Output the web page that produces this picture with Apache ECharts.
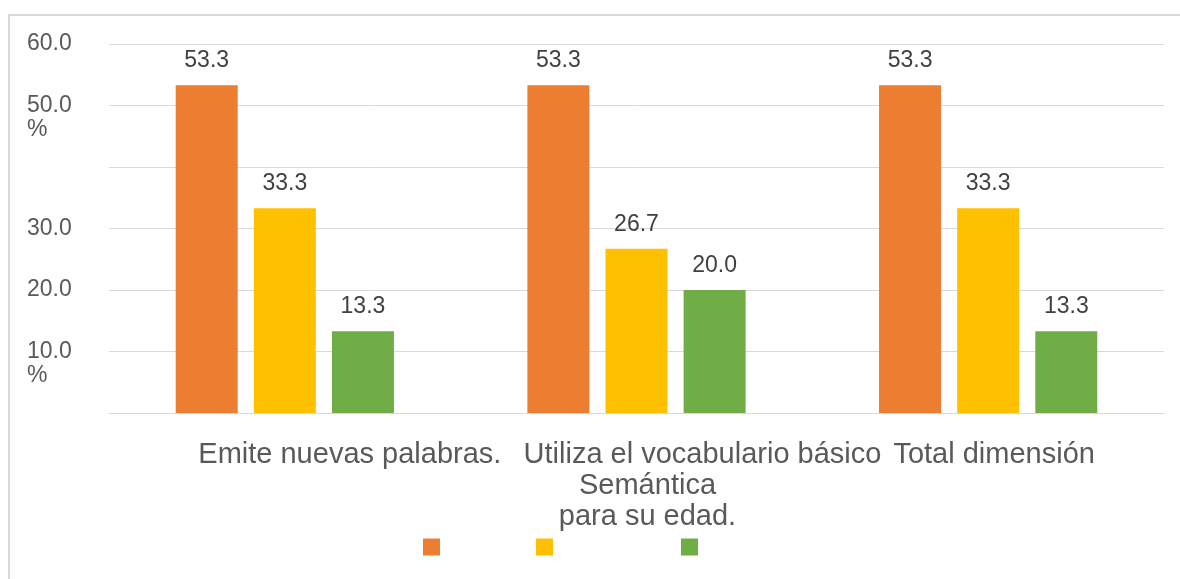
<!DOCTYPE html>
<html>
<head>
<meta charset="utf-8">
<script src="https://cdn.jsdelivr.net/npm/echarts@6/dist/echarts.min.js"></script>
<style>
  html, body { margin: 0; padding: 0; background: #fff; }
  #chart { width: 1180px; height: 579px; }
</style>
</head>
<body>
<div id="chart"></div>
<script>
// categories as they appear under the axis
const categories = ['Emite nuevas palabras.', 'Utiliza el vocabulario básico para su edad.', 'Total dimensión Semántica'];
const seriesNames = ['Inicio', 'Proceso', 'Logrado'];
const inicio = [53.3, 53.3, 53.3];
const proceso = [33.3, 26.7, 33.3];
const logrado = [13.3, 20.0, 13.3];
const colors = ['#ED7D31', '#FFC000', '#70AD47'];
// y tick labels (some are hidden / wrapped in the original)
const yTickLabels = { 0: '', 10: '10.0\n%', 20: '20.0', 30: '30.0', 40: '', 50: '50.0\n%', 60: '60.0' };

const FONT = "'Liberation Sans', Arial, sans-serif";

const chart = echarts.init(document.getElementById('chart'));

const option = {
    animation: false,
    textStyle: { fontFamily: FONT },
    graphic: [{
        type: 'rect',
        shape: { x: 9, y: 15, width: 1300, height: 700 },
        style: { fill: 'none', stroke: '#d9d9d9', lineWidth: 2 },
        silent: true
    }],
    grid: { left: 109, right: 16, top: 44, bottom: 166, containLabel: false },
    // legend text sits below the icons and is cut off by the bottom edge
    legend: seriesNames.map((name, i) => ({
        data: [name],
        left: [418, 531, 676][i],
        top: 521,
        icon: 'rect',
        itemWidth: 17,
        itemHeight: 17,
        selectedMode: false,
        formatter: n => '{e| }\n{n|' + n + '}',
        textStyle: {
            fontFamily: FONT,
            rich: {
                e: { fontSize: 10, lineHeight: 88 },
                n: { fontSize: 28, lineHeight: 32, color: '#595959', fontFamily: FONT }
            }
        }
    })),
    xAxis: {
        type: 'category',
        data: categories,
        axisLine: { show: true, lineStyle: { color: '#d9d9d9', width: 1 } },
        axisTick: { show: false },
        axisLabel: {
            interval: 0,
            margin: 26,
            color: '#595959',
            fontSize: 29,
            fontFamily: FONT,
            formatter: function (v, idx) {
                if (idx === 0) return '{c1|Emite nuevas palabras.}';
                if (idx === 1) return '{c2|Utiliza el vocabulario básico}\n{c2b|Semántica}\n{c2b|para su edad.}';
                return '{c3|Total dimensión}';
            },
            rich: {
                c1: { fontSize: 29, lineHeight: 31, color: '#595959', padding: [0, 0, 0, 130] },
                c2: { fontSize: 29, lineHeight: 31, color: '#595959', padding: [0, 0, 0, 132] },
                c2b: { fontSize: 29, lineHeight: 31, color: '#595959', padding: [0, 0, 0, 22] },
                c3: { fontSize: 29, lineHeight: 31, color: '#595959', padding: [0, 0, 0, 12] }
            }
        }
    },
    yAxis: {
        type: 'value',
        min: 0,
        max: 60,
        interval: 10,
        axisLine: { show: false },
        axisTick: { show: false },
        splitLine: { lineStyle: { color: '#d9d9d9', width: 1 } },
        axisLabel: {
            align: 'left',
            margin: 82,
            color: '#595959',
            fontSize: 23,
            lineHeight: 24,
            fontFamily: FONT,
            formatter: function (v) {
                const s = yTickLabels[v] || '';
                return s.indexOf('\n') >= 0 ? ' \n' + s : s;
            }
        }
    },
    series: [inicio, proceso, logrado].map((d, i) => ({
        name: seriesNames[i],
        type: 'bar',
        data: d,
        barWidth: 62,
        barGap: '26%',
        itemStyle: { color: colors[i] },
        label: {
            show: true,
            position: 'top',
            distance: 13,
            color: '#404040',
            fontSize: 23,
            fontFamily: FONT,
            formatter: p => p.value.toFixed(1)
        }
    }))
};

chart.setOption(option);
window.addEventListener('resize', () => chart.resize());
</script>
</body>
</html>
